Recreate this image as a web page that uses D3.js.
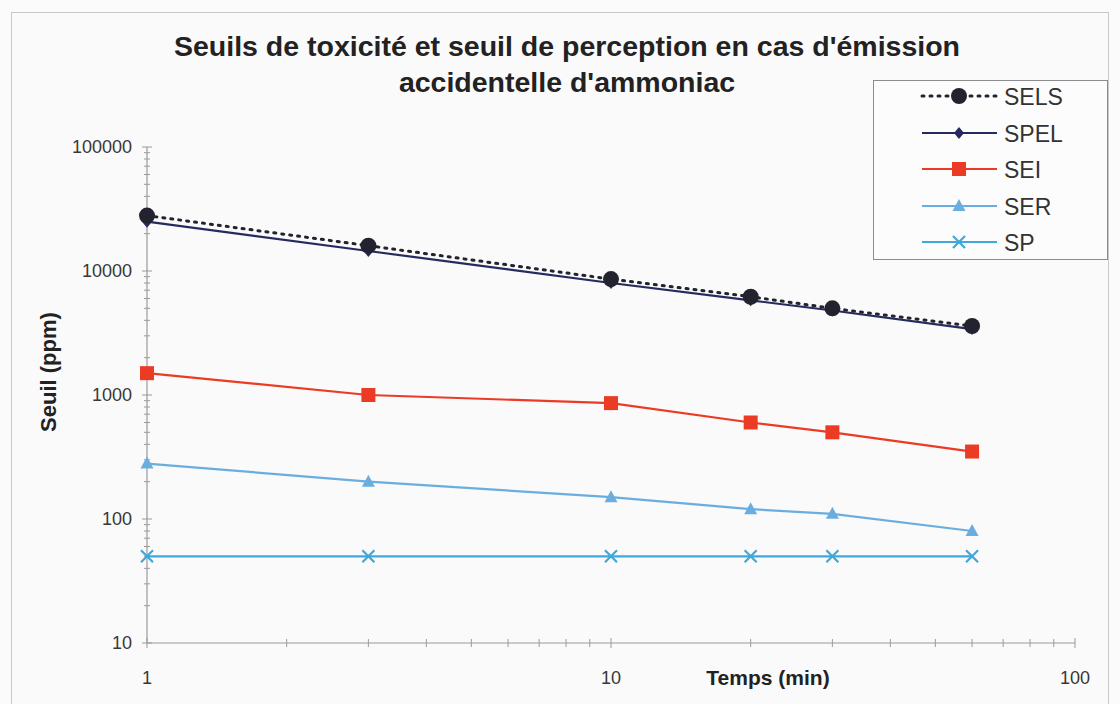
<!DOCTYPE html>
<html>
<head>
<meta charset="utf-8">
<script src="https://cdn.jsdelivr.net/npm/d3@7"></script>
<style>
  body { margin: 0; background: #fff; }
  svg { display: block; font-family: "Liberation Sans", Arial, sans-serif; }
</style>
</head>
<body>
<svg id="chart" width="1120" height="704"></svg>
<script>
// data
const times = [1, 3, 10, 20, 30, 60]
const sels = [28000, 16000, 8600, 6200, 5000, 3600]
const spel = [25000, 14500, 8000, 5800, 4800, 3400]
const sei = [1500, 1000, 860, 600, 500, 350]
const ser = [280, 200, 150, 120, 110, 80]
const sp = [50, 50, 50, 50, 50, 50]
const seriesNames = ["SELS", "SPEL", "SEI", "SER", "SP"]
const xTicks = [1, 10, 100]
const yTicks = [10, 100, 1000, 10000, 100000]

const series = [
  {name: "SELS", values: sels, color: "#23232f", dash: "2,6", marker: "circle"},
  {name: "SPEL", values: spel, color: "#262a5e", dash: null, marker: "diamond"},
  {name: "SEI", values: sei, color: "#ec3b24", dash: null, marker: "square"},
  {name: "SER", values: ser, color: "#6aaee0", dash: null, marker: "triangle"},
  {name: "SP", values: sp, color: "#3fa7d9", dash: null, marker: "cross"}
]

const svg = d3.select("#chart")
const margin = {top: 147, right: 45, bottom: 61, left: 147}
const width = 1120, height = 704

// background and frame
svg.append("rect").attr("x", 0).attr("y", 0).attr("width", width).attr("height", height).attr("fill", "#fbfbfb")
svg.append("rect").attr("x", 11.5).attr("y", 12.5).attr("width", 1097).attr("height", 700)
  .attr("fill", "#fafafa").attr("stroke", "#c8c8c8")

const x = d3.scaleLog().domain([1, 100]).range([margin.left, width - margin.right])
const y = d3.scaleLog().domain([10, 100000]).range([height - margin.bottom, margin.top])

// axes with minor ticks (cross style)
const axisColor = "#9a9a9a"
const g = svg.append("g")
g.append("line").attr("x1", x(1)).attr("x2", x(100)).attr("y1", y(10)).attr("y2", y(10))
  .attr("stroke", axisColor).attr("stroke-width", 1.2)
g.append("line").attr("x1", x(1)).attr("x2", x(1)).attr("y1", y(10)).attr("y2", y(100000))
  .attr("stroke", axisColor).attr("stroke-width", 1.2)

const xAll = x.ticks()
g.selectAll(".xt").data(xAll).join("line")
  .attr("x1", d => x(d)).attr("x2", d => x(d))
  .attr("y1", d => y(10) - (xTicks.includes(d) ? 5 : 4))
  .attr("y2", d => y(10) + (xTicks.includes(d) ? 5 : 4))
  .attr("stroke", axisColor)
const yAll = y.ticks()
g.selectAll(".yt").data(yAll).join("line")
  .attr("y1", d => y(d)).attr("y2", d => y(d))
  .attr("x1", d => x(1) - (yTicks.includes(d) ? 5 : 3))
  .attr("x2", d => x(1) + (yTicks.includes(d) ? 5 : 3))
  .attr("stroke", axisColor)

// tick labels
g.selectAll(".xl").data(xTicks).join("text")
  .attr("x", d => x(d)).attr("y", 684).attr("text-anchor", "middle")
  .attr("font-size", 18).attr("fill", "#383838").text(d => d)
g.selectAll(".yl").data(yTicks).join("text")
  .attr("x", 132).attr("y", d => y(d) + 6).attr("text-anchor", "end")
  .attr("font-size", 18).attr("fill", "#383838").text(d => d)

// axis titles
svg.append("text").attr("x", 768).attr("y", 685).attr("text-anchor", "middle")
  .attr("font-size", 21).attr("font-weight", "bold").attr("fill", "#222").text("Temps (min)")
svg.append("text").attr("transform", "translate(56,372) rotate(-90)").attr("text-anchor", "middle")
  .attr("font-size", 22).attr("font-weight", "bold").attr("fill", "#222").text("Seuil (ppm)")

// title
svg.append("text").attr("x", 567).attr("y", 56).attr("text-anchor", "middle")
  .attr("font-size", 28.5).attr("font-weight", "bold").attr("fill", "#222")
  .text("Seuils de toxicité et seuil de perception en cas d'émission")
svg.append("text").attr("x", 567).attr("y", 92).attr("text-anchor", "middle")
  .attr("font-size", 28.5).attr("font-weight", "bold").attr("fill", "#222")
  .text("accidentelle d'ammoniac")

function drawMarker(sel, s, cx, cy) {
  if (s.marker === "circle") {
    sel.append("circle").attr("cx", cx).attr("cy", cy).attr("r", 8).attr("fill", s.color)
  } else if (s.marker === "diamond") {
    sel.append("path").attr("transform", `translate(${cx},${cy})`)
      .attr("d", "M0,-6L5,0L0,6L-5,0Z").attr("fill", s.color)
  } else if (s.marker === "square") {
    sel.append("rect").attr("x", cx - 7).attr("y", cy - 7).attr("width", 14).attr("height", 14).attr("fill", s.color)
  } else if (s.marker === "triangle") {
    sel.append("path").attr("transform", `translate(${cx},${cy})`)
      .attr("d", "M0,-7L6.5,5L-6.5,5Z").attr("fill", s.color)
  } else {
    sel.append("path").attr("transform", `translate(${cx},${cy})`)
      .attr("d", "M-6,-6L6,6M-6,6L6,-6").attr("stroke", s.color).attr("stroke-width", 2.2)
  }
}

const line = d3.line().x(d => x(d[0])).y(d => y(d[1]))

// draw series, bottom ones first
series.slice().reverse().forEach(function(s) {
  const pts = times.map((t, i) => [t, s.values[i]])
  const sg = svg.append("g")
  sg.append("path").datum(pts).attr("d", line).attr("fill", "none")
    .attr("stroke", s.color).attr("stroke-width", s.dash ? 3 : 2.2)
    .attr("stroke-dasharray", s.dash).attr("stroke-linecap", s.dash ? "round" : "butt")
  pts.forEach(p => drawMarker(sg, s, x(p[0]), y(p[1])))
})

// legend
const lg = svg.append("g")
lg.append("rect").attr("x", 873.5).attr("y", 80.5).attr("width", 234).attr("height", 179)
  .attr("fill", "#fcfcfc").attr("stroke", "#8c8c8c")
const legendY = [96, 133, 169, 206, 242]
series.forEach(function(s, i) {
  const ly = legendY[i]
  lg.append("line").attr("x1", 922).attr("x2", 997).attr("y1", ly).attr("y2", ly)
    .attr("stroke", s.color).attr("stroke-width", s.dash ? 3 : 2.2)
    .attr("stroke-dasharray", s.dash).attr("stroke-linecap", s.dash ? "round" : "butt")
  drawMarker(lg, s, 959, ly)
  lg.append("text").attr("x", 1004).attr("y", ly + 8.5).attr("font-size", 23).attr("fill", "#333").text(seriesNames[i])
})
</script>
</body>
</html>
